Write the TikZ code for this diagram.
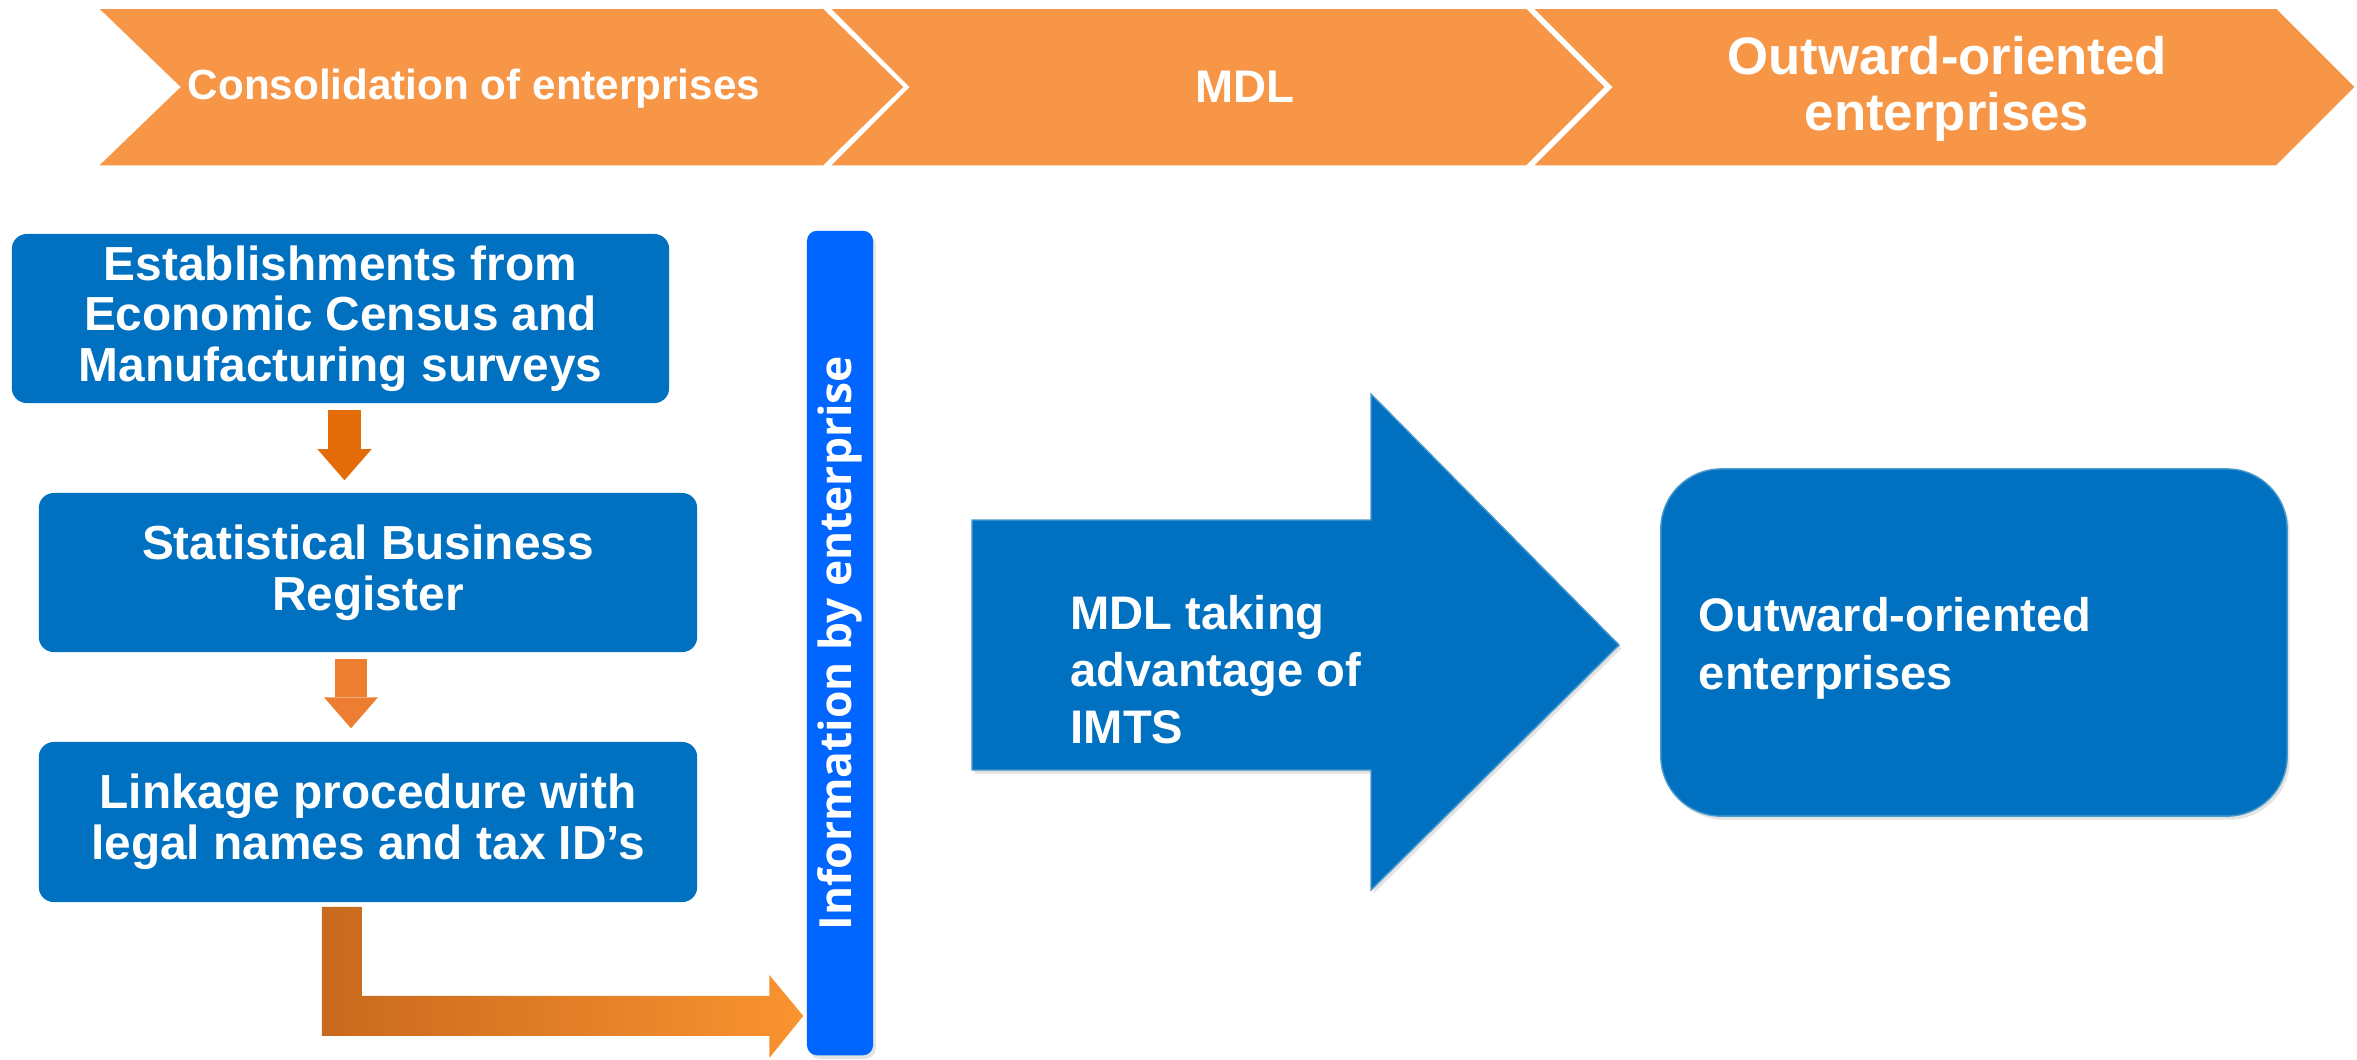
\documentclass[tikz,border=0pt]{standalone}
\usepackage{fontspec}
\setmainfont{Liberation Sans}
\newfontfamily\barfont{Open Sans}
\usetikzlibrary{positioning}
\usetikzlibrary{arrows.meta}
\usetikzlibrary{calc}
\usetikzlibrary{shadows}
\usetikzlibrary{math}

\definecolor{chevOrange}{HTML}{F79646}
\definecolor{boxBlue}{HTML}{0070C0}
\definecolor{barBlue}{HTML}{0066FF}
\definecolor{arrDark}{HTML}{E36C09}
\definecolor{arrLight}{HTML}{ED7D31}
\definecolor{elbowL}{HTML}{C8691D}
\definecolor{elbowR}{HTML}{FA9330}
\definecolor{edgeBlue}{HTML}{4A9ACB}

\tikzset{
  chevron/.style={fill=chevOrange, draw=white, line width=1pt},
  chevtext/.style={text=white, align=center, inner sep=0pt},
  stepbox/.style={fill=boxBlue, rounded corners=0.15cm, text=white, align=center,
    font=\fontsize{13.6}{14.4}\selectfont\bfseries, inner sep=0pt},
  downarrow/.style={line width=0.32cm, -{Triangle[width=0.54cm,length=0.31cm,line width=0pt]}},
  softshadow/.style={drop shadow={opacity=0.22, shadow xshift=0.025cm, shadow yshift=-0.035cm}},
}

\begin{document}
\begin{tikzpicture}[x=0.01cm, y=-0.01cm]
      \tikzmath{
        \chTop = 7;
        \chBot = 167;
        \chMid = 87;
      }
      \useasboundingbox (0,0) rectangle (2357,1059);

      % phases
      \path[chevron] (95,\chTop) -- (824,\chTop) -- (906,\chMid) -- (824,\chBot) -- (95,\chBot) -- (178,\chMid) -- cycle;
      \path[chevron] (827,\chTop) -- (1527,\chTop) -- (1607,\chMid) -- (1527,\chBot) -- (827,\chBot) -- (907,\chMid) -- cycle;
      \path[chevron] (1530,\chTop) -- (2277,\chTop) -- (2357,\chMid) -- (2277,\chBot) -- (1530,\chBot) -- (1610,\chMid) -- cycle;

      \node[chevtext, font=\fontsize{12}{14}\selectfont\bfseries] (consol) at (474,89) {Consolidation of enterprises};
      \node[chevtext, font=\fontsize{13}{15}\selectfont\bfseries] (mdl) at (1245,\chMid) {MDL};
      \node[chevtext, font=\fontsize{15}{16}\selectfont\bfseries] (outtop) at (1947,89) {Outward-oriented\\enterprises};

      % consolidation steps
      \node[stepbox, minimum width=6.57cm, minimum height=1.69cm] (estab) at (340.5,318.5)
        {Establishments from\\Economic Census and\\Manufacturing surveys};
      \node[stepbox, minimum width=6.58cm, minimum height=1.59cm] (sbr) at (368,572.5)
        {Statistical Business\\Register};
      \node[stepbox, minimum width=6.58cm, minimum height=1.60cm] (linkage) at (368,822)
        {Linkage procedure with\\legal names and tax ID’s};

      \draw[downarrow, arrDark, shorten <=0.06cm, shorten >=0.12cm]
        ([xshift=0.04cm]estab.south) -- ([xshift=0.04cm]estab.south |- sbr.north);
      \draw[downarrow, arrLight, shorten <=0.06cm, shorten >=0.13cm]
        ([xshift=-0.17cm]sbr.south) -- ([xshift=-0.17cm]linkage.north);

      \node[fill=barBlue, rounded corners=0.1cm, minimum width=0.66cm, minimum height=8.24cm,
        inner sep=0pt, softshadow] (bar) at (840,643) {};
      \node[rotate=90, text=white, inner sep=0pt, font=\barfont\fontsize{12.6}{14}\selectfont\bfseries]
        (barlabel) at (bar.center) {Information by enterprise};

      \coordinate (elbowstart) at ([xshift=-0.26cm, yshift=-0.04cm]linkage.south);
      \coordinate (elbowtip) at ([xshift=-0.03cm, yshift=0.40cm]bar.south west);
      \shade[left color=elbowL, right color=elbowR]
        ($(elbowstart)+(-20,0)$) -- ($(elbowstart)+(20,0)$) -- ($(elbowstart |- elbowtip)+(20,-20)$)
        -- ($(elbowtip)+(-34,-20)$) -- ($(elbowtip)+(-34,-41)$) -- (elbowtip)
        -- ($(elbowtip)+(-34,42)$) -- ($(elbowtip)+(-34,20)$) -- ($(elbowstart |- elbowtip)+(-20,20)$) -- cycle;

      % MDL
      \filldraw[fill=boxBlue, draw=edgeBlue, line width=0.4pt, softshadow]
        (972,520) -- (1371,520) -- (1371,394) -- (1619,645) -- (1371,890) -- (1371,770) -- (972,770) -- cycle;
      \node[anchor=west, text=white, align=left, inner sep=0pt, font=\fontsize{13.4}{16.2}\selectfont\bfseries]
        (mdltext) at (1070,670) {MDL taking\\advantage of\\IMTS};

      \node[fill=boxBlue, draw=edgeBlue, line width=0.4pt, rounded corners=0.6cm, minimum width=6.26cm,
        minimum height=3.47cm, softshadow] (outbox) at (1974,642.5) {};
      \node[anchor=west, text=white, align=left, inner sep=0pt, font=\fontsize{13.4}{16.6}\selectfont\bfseries]
        (outtext) at ([xshift=0.38cm, yshift=-0.06cm]outbox.west) {Outward-oriented\\enterprises};

    \end{tikzpicture}
\end{document}
